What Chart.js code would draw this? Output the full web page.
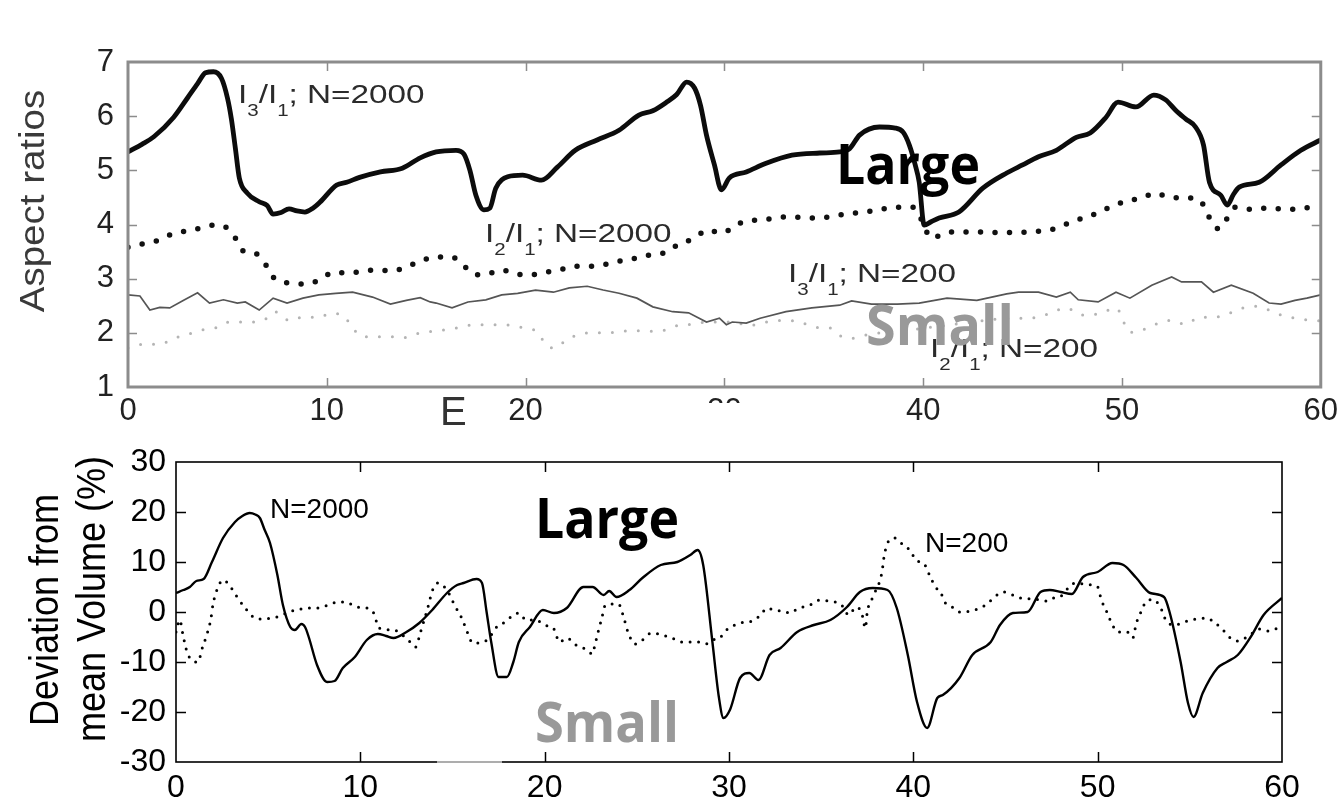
<!DOCTYPE html>
<html>
<head>
<meta charset="utf-8">
<title>Aspect ratios and volume deviation</title>
<script src="https://cdn.jsdelivr.net/npm/chart.js@4.4.1/dist/chart.umd.min.js"></script>
<style>
  html, body { margin: 0; padding: 0; background: #fff; }
  #wrap { position: relative; width: 1344px; height: 801px; overflow: hidden; background: #fff; }
  #topChart { position: absolute; left: 0; top: 0; filter: blur(0.6px); }
  #bottomChart { position: absolute; left: 0; top: 430px; }
  #words { position: absolute; left: 0; top: 0; pointer-events: none; }
</style>
</head>
<body>
<div id="wrap">
  <canvas id="topChart" width="1344" height="430"></canvas>
  <canvas id="bottomChart" width="1344" height="371"></canvas>
  <canvas id="words" width="1344" height="801"></canvas>
</div>
<script>
// ---- Upper panel: aspect ratios against E, pairs of [E, value] ----
const ratio31_N2000 = [
  [0,5.34],[0.7,5.48],[1.3,5.62],[2.3,5.98],[3.0,6.34],[3.5,6.6],[3.9,6.8],[4.3,6.82],[4.7,6.7],[5.0,6.34],
  [5.2,5.95],[5.4,5.41],[5.6,4.86],[6.0,4.58],[6.6,4.42],[7.0,4.35],[7.3,4.19],[7.7,4.22],[8.1,4.29],[8.5,4.25],
  [8.9,4.23],[9.3,4.3],[9.65,4.41],[10.5,4.73],[11.0,4.78],[11.65,4.87],[12.7,4.97],[13.8,5.04],[14.7,5.23],[15.5,5.34],
  [16.5,5.37],[16.9,5.3],[17.2,5.0],[17.5,4.54],[17.9,4.27],[18.2,4.3],[18.5,4.67],[19.1,4.88],[19.85,4.91],[20.8,4.82],
  [21.6,5.06],[22.5,5.37],[23.6,5.56],[24.7,5.74],[25.7,6.02],[26.4,6.1],[27.1,6.26],[27.6,6.4],[28.1,6.63],[28.5,6.52],
  [28.8,6.2],[29.1,5.65],[29.5,5.1],[29.85,4.64],[30.25,4.86],[31.1,4.97],[32.1,5.13],[33.4,5.28],[34.8,5.32],[35.8,5.34],
  [36.3,5.4],[36.8,5.65],[37.8,5.8],[38.6,5.78],[39.0,5.7],[39.3,5.47],[39.6,5.1],[39.8,4.78],[40.05,3.99],[40.4,4.05],
  [40.8,4.12],[41.8,4.23],[43.0,4.67],[44.2,4.95],[45.0,5.1],[45.8,5.25],[46.7,5.37],[47.7,5.61],[48.4,5.69],[49.2,5.98],
  [49.8,6.26],[50.7,6.17],[51.6,6.39],[52.2,6.3],[52.7,6.11],[53.2,5.95],[53.7,5.8],[54.1,5.47],[54.4,4.78],[54.97,4.54],
  [55.3,4.36],[55.6,4.55],[55.9,4.69],[56.9,4.78],[58.0,5.1],[59.0,5.37],[60,5.56]
];
const ratio21_N2000 = [
  [0,3.58],[0.7,3.64],[1.46,3.7],[2.2,3.82],[2.9,3.88],[3.6,3.93],[4.37,3.99],[5.0,3.93],[5.4,3.75],[5.8,3.51],
  [6.5,3.45],[7.0,3.22],[7.4,2.99],[8.2,2.92],[8.9,2.9],[9.6,2.97],[10.35,3.12],[11.05,3.1],[11.8,3.14],[12.55,3.16],
  [13.3,3.14],[14.0,3.22],[14.7,3.32],[15.4,3.4],[16.3,3.4],[16.8,3.27],[17.5,3.07],[18.1,3.09],[18.8,3.16],[19.5,3.09],
  [20.2,3.07],[21.0,3.12],[21.7,3.16],[22.5,3.23],[23.3,3.23],[24.1,3.27],[24.8,3.33],[25.6,3.38],[26.3,3.44],[27.1,3.49],
  [27.7,3.64],[28.4,3.73],[29.2,3.9],[29.8,3.84],[30.4,3.93],[31.0,4.06],[31.8,4.08],[33.1,4.14],[34.6,4.12],[36.1,4.19],
  [37.4,4.25],[38.8,4.32],[39.5,4.32],[39.9,4.1],[40.4,3.75],[41.3,3.86],[42.7,3.86],[44.1,3.85],[45.2,3.86],[46.7,3.93],
  [47.4,4.04],[48.7,4.2],[49.4,4.32],[50.2,4.43],[51.0,4.49],[51.7,4.58],[52.2,4.52],[52.9,4.49],[53.7,4.49],[54.2,4.3],
  [54.5,4.04],[54.9,3.92],[55.3,4.12],[55.7,4.32],[56.5,4.28],[57.2,4.3],[58.7,4.28],[59.5,4.32],[60,4.33]
];
const ratio31_N200 = [
  [0,2.7],[0.6,2.68],[1.1,2.42],[1.6,2.47],[2.1,2.46],[2.8,2.6],[3.5,2.74],[4.1,2.55],[4.8,2.61],[5.5,2.55],
  [5.9,2.57],[6.6,2.42],[7.3,2.64],[8.0,2.55],[8.8,2.64],[9.6,2.7],[10.45,2.73],[11.3,2.75],[12.3,2.66],[13.2,2.53],
  [14.0,2.6],[14.7,2.65],[15.2,2.57],[15.5,2.55],[16.3,2.46],[17.1,2.57],[18.0,2.61],[18.8,2.7],[19.6,2.73],[20.5,2.79],
  [21.4,2.75],[22.2,2.83],[23.1,2.86],[23.9,2.79],[24.7,2.73],[25.6,2.64],[26.4,2.48],[27.4,2.39],[28.2,2.37],[29.1,2.2],
  [29.75,2.27],[30.1,2.15],[30.4,2.2],[31.1,2.18],[31.8,2.27],[33.1,2.39],[34.4,2.46],[35.8,2.51],[36.4,2.59],[37.4,2.53],
  [38.7,2.53],[39.8,2.55],[41.2,2.64],[42.7,2.6],[44.2,2.72],[44.8,2.75],[45.8,2.75],[46.7,2.66],[47.4,2.75],[47.8,2.61],
  [48.8,2.57],[49.7,2.75],[50.4,2.64],[51.5,2.88],[52.5,3.03],[53.0,2.94],[54.0,2.94],[54.6,2.75],[55.5,2.88],[56.6,2.73],
  [57.4,2.55],[58.0,2.53],[58.7,2.6],[59.3,2.64],[60,2.7]
];
const ratio21_N200 = [
  [0,1.72],[0.8,1.79],[1.6,1.79],[2.3,1.9],[2.9,1.96],[3.7,2.05],[4.5,2.1],[5.1,2.2],[5.8,2.2],[6.4,2.2],
  [7.0,2.27],[7.4,2.39],[8.1,2.23],[8.8,2.29],[9.6,2.29],[10.2,2.36],[10.8,2.33],[11.3,2.09],[11.8,1.93],[12.5,1.93],
  [13.2,1.93],[13.8,1.91],[14.6,1.99],[15.8,2.05],[16.5,2.09],[17.2,2.14],[17.8,2.15],[18.5,2.15],[19.2,2.14],[19.8,2.1],
  [20.6,2.01],[21.05,1.77],[21.45,1.72],[22.1,1.88],[22.9,1.99],[23.7,2.0],[24.5,2.01],[25.3,2.04],[26.2,2.03],[27.0,2.05],
  [27.7,2.14],[28.4,2.16],[29.1,2.2],[30.3,2.2],[31.3,2.14],[32.1,2.2],[32.9,2.23],[33.8,2.2],[34.6,2.1],[35.3,2.09],
  [35.9,1.93],[36.4,1.9],[37.1,1.96],[38.1,2.01],[39.2,2.05],[40.3,2.1],[41.4,2.15],[42.5,2.2],[43.6,2.25],[44.8,2.27],
  [45.8,2.29],[46.5,2.38],[47.2,2.46],[48.0,2.33],[48.9,2.36],[49.7,2.46],[50.4,2.01],[51.0,2.05],[51.7,2.16],[52.4,2.23],
  [53.2,2.16],[53.9,2.29],[54.7,2.29],[55.4,2.36],[56.1,2.46],[56.7,2.49],[57.4,2.42],[58.0,2.33],[58.7,2.27],[59.5,2.23],
  [60,2.22]
];
const ratioTicksX = [0, 10, 20, 30, 40, 50, 60];
const ratioRange = [1, 7];

// ---- Lower panel: deviation from mean volume (%) ----
const volume_N2000 = [
  [0,3.8],[0.4,4.4],[0.75,5],[1.1,6.2],[1.5,6.6],[1.95,10],[2.55,14.8],[3.2,18],[3.6,19.2],[4.0,19.8],
  [4.3,19.5],[4.55,18.8],[4.8,16.5],[5.1,13.8],[5.5,7.4],[5.8,1.4],[6.2,-3],[6.45,-3.6],[6.8,-2.4],[7.0,-3],
  [7.2,-5],[7.65,-10.6],[8.2,-14],[8.6,-13.8],[9.05,-11.2],[9.7,-9],[10.35,-5.6],[10.95,-4.4],[11.4,-4.8],[11.8,-5.2],
  [12.5,-4],[13.2,-2.2],[13.9,0.4],[14.7,3.8],[15.25,5.4],[15.6,5.8],[16.3,6.6],[16.6,5.8],[16.85,0],[17.1,-6],
  [17.5,-13],[17.95,-13],[18.3,-10],[18.6,-6],[19.2,-3],[19.9,0.4],[20.5,-0.2],[21.2,0.8],[22.1,5],[22.6,5],
  [23.2,3.4],[23.5,4.2],[23.9,3],[24.6,4.4],[25.3,6.8],[26.3,9.4],[27.2,10],[27.9,11.4],[28.3,12.4],[28.6,9.4],
  [29.1,-6],[29.45,-17],[29.7,-21.2],[30.06,-19.5],[30.6,-13.2],[31.1,-12.2],[31.6,-13.6],[32.2,-8.6],[32.8,-7.2],[33.7,-4],
  [34.6,-2.6],[35.5,-1.6],[36.4,1],[37.1,4],[37.8,4.8],[38.6,4.4],[39.1,0.8],[39.7,-8.6],[40.2,-18],[40.75,-23.2],
  [41.3,-17.2],[41.6,-16.6],[42.5,-13.2],[43.2,-8.6],[44.2,-6],[44.7,-2.6],[45.4,-0.2],[46.2,0],[46.9,4],[47.4,4.4],
  [48.0,4],[48.6,3.6],[49.2,7],[50.0,8],[50.8,9.8],[51.4,9.4],[52.1,6.8],[52.85,3.8],[53.6,3],[53.9,0],
  [54.5,-10],[54.9,-18.2],[55.2,-21],[55.7,-16.2],[56.5,-11.2],[57.0,-10],[57.6,-8.6],[58.3,-5],[59.0,-0.6],[60,2.8]
];
const volume_N200 = [
  [0,-4],[0.2,-1.6],[0.4,-5],[0.6,-8],[0.9,-9.8],[1.2,-10],[1.4,-7.5],[1.7,-4.2],[1.9,-1.2],[2.0,1.4],
  [2.2,4.2],[2.55,6.4],[3.0,4.8],[3.35,2.8],[3.8,0.6],[4.2,-1],[4.7,-1.4],[5.2,-1.2],[5.65,-0.8],[6.1,0],
  [6.55,0.4],[7.1,0.8],[7.65,0.8],[8.25,1.4],[8.8,2],[9.35,1.8],[9.8,1],[10.35,0.8],[10.75,-0.4],[11.0,-3.2],
  [11.8,-3.6],[12.7,-6],[13.0,-7],[13.25,-4.2],[13.7,1.4],[13.9,4.2],[14.2,5.8],[14.7,4.4],[15.0,2.2],[15.2,0.8],
  [15.5,-1.2],[15.8,-4],[16.1,-6.2],[16.7,-6],[17.1,-4.6],[17.4,-3],[17.85,-2],[18.3,-0.6],[18.6,-0.2],[19.0,-1.6],
  [19.5,-1.6],[20.0,-2.6],[20.5,-3.4],[20.8,-6],[21.2,-5.2],[21.7,-6.6],[22.2,-7.4],[22.6,-8.4],[22.7,-7],[22.9,-4],
  [23.1,-1.2],[23.3,1.4],[24.0,1.6],[24.3,-1.2],[24.5,-3.8],[24.9,-6.4],[25.3,-5.6],[25.8,-4.2],[26.4,-4.6],[26.9,-5.2],
  [27.5,-6],[28.0,-6],[28.3,-6],[28.75,-6.4],[29.1,-5.6],[29.5,-5.2],[29.8,-3.8],[30.2,-2.8],[30.6,-2.2],[31.0,-2],
  [31.4,-1.6],[31.7,-0.6],[32.1,0.8],[32.4,0.4],[32.9,0.2],[33.3,-0.2],[33.7,0.6],[34.0,1],[34.5,1.6],[34.9,2.4],
  [35.4,2.2],[36.1,1.4],[36.5,-0.6],[36.9,1],[37.2,-0.2],[37.4,-3.2],[37.5,0],[37.8,3],[38.3,8],[38.4,10.8],
  [38.6,13.8],[39.0,14.8],[39.4,13.6],[39.8,12.4],[40.2,10.2],[40.55,9.8],[40.9,7.2],[41.2,5],[41.5,3.8],[41.7,2],
  [42.1,1],[42.5,0],[43.1,0.2],[43.5,0.6],[44.0,1.6],[44.4,3],[44.9,4],[45.4,3.4],[45.8,2.8],[46.5,2.6],
  [47.3,2.2],[47.7,3],[48.1,3.4],[48.4,4.8],[48.8,5.8],[49.4,5.5],[50.0,5],[50.2,2.4],[50.5,0],[50.8,-2.6],
  [51.1,-4],[51.6,-4],[51.9,-5.2],[52.1,-2.2],[52.4,0.4],[52.6,2],[53.0,2.5],[53.4,1],[53.7,-1.6],[54.1,-2.6],
  [54.6,-2.2],[55.0,-1.6],[55.5,-1.4],[55.9,-1.2],[56.3,-2],[56.75,-3.4],[57.2,-5.2],[57.6,-5.8],[58.1,-5],[58.4,-4.2],
  [58.8,-3.4],[59.3,-3.8],[59.8,-3.2],[60,-3]
];
const volumeRange = [-30, 30];

const SANS = '"Liberation Sans", Arial, Helvetica, sans-serif';
const toPoints = arr => arr.map(([x, y]) => ({ x, y }));

// Box frame with inward tick marks on all four sides
const framePlugin = {
  id: 'frame',
  afterDatasetsDraw(chart, args, o) {
    const { ctx, chartArea: a, scales: { x, y } } = chart;
    ctx.save();
    ctx.strokeStyle = o.color;
    ctx.lineWidth = o.tickWidth;
    ctx.beginPath();
    x.ticks.forEach(t => {
      if (t.value <= x.min || t.value >= x.max) return;
      const px = Math.round(x.getPixelForValue(t.value)) + 0.5;
      ctx.moveTo(px, a.top); ctx.lineTo(px, a.top + o.len);
      ctx.moveTo(px, a.bottom); ctx.lineTo(px, a.bottom - o.len);
    });
    y.ticks.forEach(t => {
      if (t.value <= y.min || t.value >= y.max) return;
      const py = Math.round(y.getPixelForValue(t.value)) + 0.5;
      ctx.moveTo(a.left, py); ctx.lineTo(a.left + o.len, py);
      ctx.moveTo(a.right, py); ctx.lineTo(a.right - o.len, py);
    });
    ctx.stroke();
    ctx.lineWidth = o.width;
    ctx.strokeRect(a.left, a.top, a.right - a.left, a.bottom - a.top);
    ctx.restore();
  }
};

// "I3/I1; N=2000" style label with lowered subscripts
function ratioLabel(ctx, x, baseline, num, den, tail) {
  const main = '26px ' + SANS, sub = '16px ' + SANS, drop = 13;
  ctx.save();
  ctx.translate(x, baseline);
  ctx.scale(1.28, 1);
  ctx.fillStyle = '#2b2b2b';
  ctx.textBaseline = 'alphabetic';
  let cx = 0;
  const put = (txt, font, dy) => { ctx.font = font; ctx.fillText(txt, cx, dy); cx += ctx.measureText(txt).width; };
  put('I', main, 0); put(num, sub, drop); put('/I', main, 0); put(den, sub, drop); put(tail, main, 0);
  ctx.restore();
}

function rotatedText(ctx, text, x, y, font, stretch, color) {
  ctx.save();
  ctx.translate(x, y);
  ctx.rotate(-Math.PI / 2);
  ctx.scale(stretch, 1);
  ctx.font = font;
  ctx.fillStyle = color;
  ctx.textAlign = 'center';
  ctx.textBaseline = 'alphabetic';
  ctx.fillText(text, 0, 0);
  ctx.restore();
}

const topNotes = {
  id: 'topNotes',
  afterDraw(chart) {
    const ctx = chart.ctx;
    ratioLabel(ctx, 238, 103, '3', '1', '; N=2000');
    ratioLabel(ctx, 485, 242, '2', '1', '; N=2000');
    ratioLabel(ctx, 788, 282, '3', '1', '; N=200');
    ratioLabel(ctx, 930, 357, '2', '1', '; N=200');
    rotatedText(ctx, 'Aspect ratios', 44, 201, '35px ' + SANS, 1.1, '#3a3a3a');
    ctx.save();
    ctx.font = '40px ' + SANS;
    ctx.fillStyle = '#333';
    ctx.fillText('E', 440, 425);
    // blank strip over the lower part of the "30" label
    ctx.fillStyle = '#fff';
    ctx.fillRect(600, 403, 160, 30);
    ctx.restore();
  }
};

const bottomNotes = {
  id: 'bottomNotes',
  afterDraw(chart) {
    const ctx = chart.ctx;
    ctx.save();
    ctx.fillStyle = '#000';
    ctx.font = '28px ' + SANS;
    ctx.fillText('N=2000', 270, 88);
    ctx.fillText('N=200', 925, 122);
    // faded stretch of the bottom frame line
    ctx.strokeStyle = 'rgba(255,255,255,0.6)';
    ctx.lineWidth = 2.5;
    ctx.beginPath(); ctx.moveTo(437, 332); ctx.lineTo(502, 332); ctx.stroke();
    ctx.restore();
    rotatedText(ctx, 'Deviation from', 58, 180, '40px ' + SANS, 0.9, '#000');
    rotatedText(ctx, 'mean Volume (%)', 105, 169, '40px ' + SANS, 0.9, '#000');
  }
};

function lineSet(points, color, width, extra) {
  return Object.assign({
    data: toPoints(points), borderColor: color, borderWidth: width,
    pointRadius: 0, fill: false, cubicInterpolationMode: 'monotone'
  }, extra || {});
}

new Chart(document.getElementById('topChart'), {
  type: 'line',
  data: {
    datasets: [
      lineSet(ratio31_N2000, '#0c0c0c', 4.8),
      lineSet(ratio21_N2000, '#111', 5.5, { borderDash: [0, 14.5], borderCapStyle: 'round' }),
      lineSet(ratio31_N200, '#555', 1.7, { cubicInterpolationMode: 'default', tension: 0 }),
      lineSet(ratio21_N200, '#b4b4b4', 3, { borderDash: [0, 13], borderCapStyle: 'round' })
    ]
  },
  options: {
    responsive: false, animation: false, devicePixelRatio: 1,
    layout: { padding: { left: 0, right: 22, top: 62, bottom: 0 } },
    plugins: {
      legend: { display: false }, tooltip: { enabled: false },
      frame: { color: '#8c8c8c', width: 3, tickWidth: 1.5, len: 9 }
    },
    scales: {
      x: {
        type: 'linear', min: ratioTicksX[0], max: ratioTicksX[ratioTicksX.length - 1],
        afterFit: s => { s.height = 43; },
        afterBuildTicks: s => { s.ticks = ratioTicksX.map(v => ({ value: v })); },
        grid: { display: false, drawTicks: false }, border: { display: false },
        ticks: { autoSkip: false, maxRotation: 0, padding: 6, color: '#222', font: { family: SANS, size: 31 } }
      },
      y: {
        min: ratioRange[0], max: ratioRange[1],
        afterFit: s => { s.width = 128; },
        grid: { display: false, drawTicks: false }, border: { display: false },
        ticks: { stepSize: 1, padding: 14, color: '#222', font: { family: SANS, size: 31 } }
      }
    }
  },
  plugins: [framePlugin, topNotes]
});

new Chart(document.getElementById('bottomChart'), {
  type: 'line',
  data: {
    datasets: [
      lineSet(volume_N2000, '#000', 2.4),
      lineSet(volume_N200, '#000', 3, { borderDash: [0, 8.5], borderCapStyle: 'round' })
    ]
  },
  options: {
    responsive: false, animation: false, devicePixelRatio: 1,
    layout: { padding: { left: 0, right: 62, top: 32, bottom: 0 } },
    plugins: {
      legend: { display: false }, tooltip: { enabled: false },
      frame: { color: '#000', width: 1.6, tickWidth: 1.5, len: 10 }
    },
    scales: {
      x: {
        type: 'linear', min: 0, max: 60,
        afterFit: s => { s.height = 39; },
        grid: { display: false, drawTicks: false }, border: { display: false },
        ticks: { stepSize: 10, autoSkip: false, maxRotation: 0, padding: 7, color: '#000', font: { family: SANS, size: 32 } }
      },
      y: {
        min: volumeRange[0], max: volumeRange[1],
        afterFit: s => { s.width = 176; },
        grid: { display: false, drawTicks: false }, border: { display: false },
        ticks: { stepSize: 10, padding: 10, color: '#000', font: { family: SANS, size: 32 } }
      }
    }
  },
  plugins: [framePlugin, bottomNotes]
});

// Bold overlay words, each fitted to its width
(function () {
  const ctx = document.getElementById('words').getContext('2d');
  function word(text, x, baseline, width, color) {
    ctx.save();
    ctx.font = '700 55px "Open Sans", "Noto Sans", sans-serif';
    const w = ctx.measureText(text).width;
    ctx.translate(x, baseline);
    ctx.scale(width / w, 1);
    ctx.fillStyle = color;
    ctx.fillText(text, 0, 0);
    ctx.restore();
  }
  word('Large', 836, 184, 144, '#000');
  word('Small', 866, 345, 148, '#999');
  word('Large', 535, 538, 144, '#000');
  word('Small', 535, 742, 144, '#999');
})();
</script>
</body>
</html>
